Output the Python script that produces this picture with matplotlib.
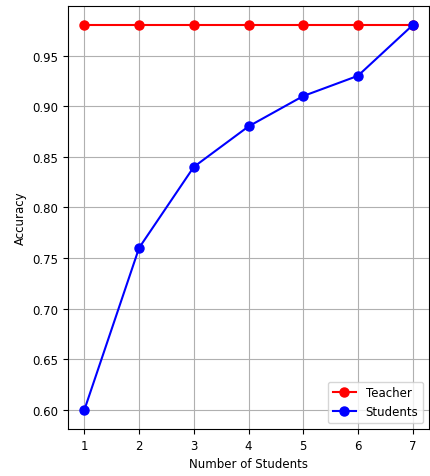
import numpy as np
import matplotlib.pyplot as plt

# number of students on x axis
num_students = [1, 2, 3, 4, 5, 6, 7]
teacher_acc = [0.98, 0.98, 0.98, 0.98, 0.98, 0.98, 0.98]
student_acc = [0.60, 0.76, 0.84, 0.88, 0.91, 0.93, 0.98]

plt.rcParams['font.family'] = ['DejaVu Sans']
plt.rcParams['font.size'] = 8.5

fig = plt.figure(figsize=(4.30, 4.77), dpi=100)
ax = fig.add_axes([68 / 430, 1 - 430 / 477, (429 - 68) / 430, (430 - 7) / 477])

ax.plot(num_students, teacher_acc, marker='o', color='red', label='Teacher', markersize=6.5, linewidth=1.5)
ax.plot(num_students, student_acc, marker='o', color='blue', label='Students', markersize=6.5, linewidth=1.5)

ax.set_xlabel('Number of Students')
ax.set_ylabel('Accuracy')
ax.set_xticks(num_students)
ax.grid(True, color='#b0b0b0', linewidth=0.8)
ax.legend(loc='lower right')

fig.savefig('out.png', dpi=100)
